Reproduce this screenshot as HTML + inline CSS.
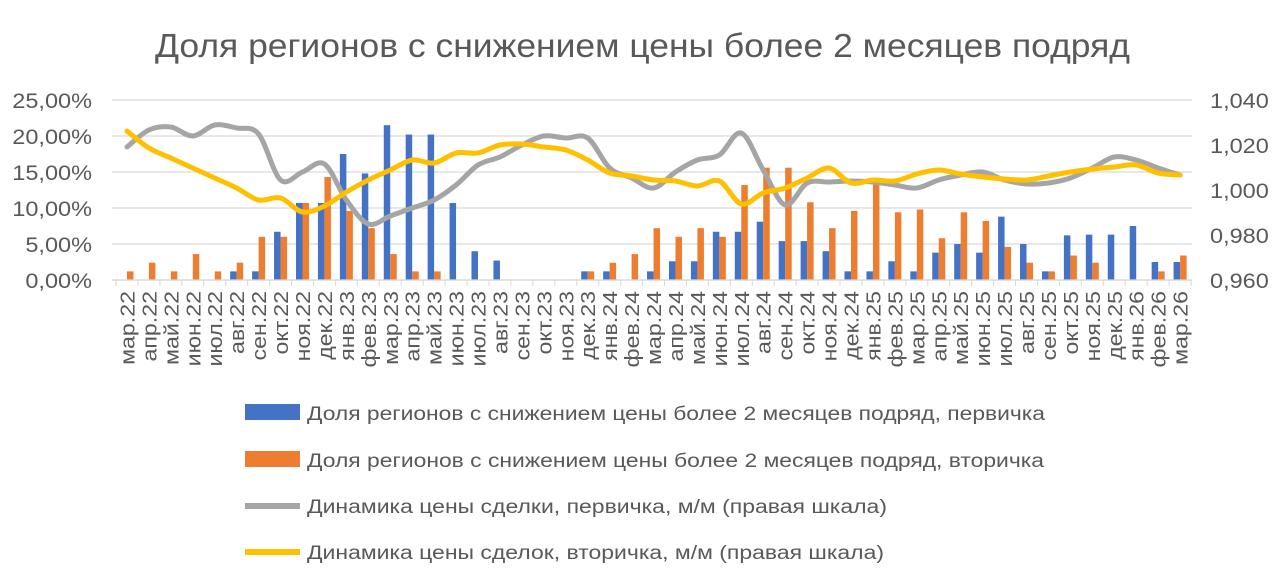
<!DOCTYPE html>
<html><head><meta charset="utf-8"><style>
body{margin:0;background:#fff;}
svg{display:block;font-family:"Liberation Sans","DejaVu Sans",sans-serif;}
</style></head><body>
<svg id="s" width="1280" height="586" xmlns="http://www.w3.org/2000/svg">
<rect width="1280" height="586" fill="#fff"/>
<text x="155" y="57" textLength="975" lengthAdjust="spacingAndGlyphs" font-size="33" fill="#595959">Доля регионов с снижением цены более 2 месяцев подряд</text>
<g id="g"></g>
<g font-size="19" fill="#595959">
<rect x="245" y="404" width="55" height="16" fill="#4472C4"/>
<text x="307" y="420" textLength="738" lengthAdjust="spacingAndGlyphs">Доля регионов с снижением цены более 2 месяцев подряд, первичка</text>
<rect x="245" y="451" width="55" height="16" fill="#ED7D31"/>
<text x="307" y="467" textLength="737" lengthAdjust="spacingAndGlyphs">Доля регионов с снижением цены более 2 месяцев подряд, вторичка</text>
<line x1="245" y1="506" x2="300" y2="506" stroke="#A5A5A5" stroke-width="6"/>
<text x="307" y="513" textLength="580" lengthAdjust="spacingAndGlyphs">Динамика цены сделки, первичка, м/м (правая шкала)</text>
<line x1="245" y1="552" x2="300" y2="552" stroke="#FFC000" stroke-width="6"/>
<text x="307" y="559" textLength="577" lengthAdjust="spacingAndGlyphs">Динамика цены сделок, вторичка, м/м (правая шкала)</text>
</g>
</svg>
<script>
var ns="http://www.w3.org/2000/svg",g=document.getElementById("g");
function el(t,a,txt){var e=document.createElementNS(ns,t);for(var k in a)e.setAttribute(k,a[k]);if(txt)e.textContent=txt;g.appendChild(e);return e;}
var L=116,W=21.94,Y0=280,P=7.2;
var ll=["25,00%","20,00%","15,00%","10,00%","5,00%","0,00%"],rl=["1,040","1,020","1,000","0,980","0,960"];
for(var i=0;i<6;i++){var y=100+i*36;el("line",{x1:112,x2:1192,y1:y,y2:y,stroke:"#d9d9d9","stroke-width":1.3});el("text",{transform:"translate(92,"+(y+8)+") scale(1.12,1)","text-anchor":"end","font-size":21,fill:"#595959"},ll[i]);}
for(var i=0;i<5;i++){var y=100+i*45;el("text",{transform:"translate(1210,"+(y+8)+") scale(1.12,1)","font-size":21,fill:"#595959"},rl[i]);}
var labels="мар.22 апр.22 май.22 июн.22 июл.22 авг.22 сен.22 окт.22 ноя.22 дек.22 янв.23 фев.23 мар.23 апр.23 май.23 июн.23 июл.23 авг.23 сен.23 окт.23 ноя.23 дек.23 янв.24 фев.24 мар.24 апр.24 май.24 июн.24 июл.24 авг.24 сен.24 окт.24 ноя.24 дек.24 янв.25 фев.25 мар.25 апр.25 май.25 июн.25 июл.25 авг.25 сен.25 окт.25 ноя.25 дек.25 янв.26 фев.26 мар.26".split(" ");
var b=[0,0,0,0,0,1.2,1.2,6.7,10.7,10.7,17.5,14.8,21.5,20.2,20.2,10.7,4.0,2.7,0,0,0,1.2,1.2,0,1.2,2.6,2.6,6.7,6.7,8.1,5.4,5.4,4.0,1.2,1.2,2.6,1.2,3.8,5.0,3.8,8.8,5.0,1.2,6.2,6.3,6.3,7.5,2.5,2.5];
var o=[1.2,2.4,1.2,3.6,1.2,2.4,6.0,6.0,10.7,14.3,9.6,7.2,3.6,1.2,1.2,0,0,0,0,0,0,1.2,2.4,3.6,7.2,6.0,7.2,6.0,13.2,15.6,15.6,10.8,7.2,9.6,13.6,9.4,9.8,5.8,9.4,8.2,4.6,2.4,1.2,3.4,2.4,0,0,1.2,3.4];
var gy=[147,130,127,136,125,128,134,180,172,164,200,224,216,208,200,185,165,157,145,136,138,138,168,178,188,172,160,155,133,170,205,183,182,181,182,185,188,180,175,172,180,184,183,178,168,157,160,168,175];
var yy=[131,148,158,168,178,188,200,198,212,206,192,180,170,160,163,153,153,145,144,147,150,160,173,176,180,181,186,181,204,193,188,178,168,183,180,181,174,170,174,177,179,180,176,172,169,167,165,173,175];
for(var i=0;i<49;i++){var c=L+W*(i+.5);
if(b[i])el("rect",{x:c-6.5,y:Y0-b[i]*P,width:6.5,height:b[i]*P,fill:"#4472C4"});
if(o[i])el("rect",{x:c,y:Y0-o[i]*P,width:6.5,height:o[i]*P,fill:"#ED7D31"});
el("text",{transform:"translate("+(c+7.5)+",291) rotate(-90) scale(1.22,1.05)","text-anchor":"end","font-size":19,fill:"#595959"},labels[i]);}
el("line",{x1:112,x2:1192,y1:280,y2:280,stroke:"#d9d9d9","stroke-width":1.3});
for(var i=0;i<=49;i++){var x=L+W*i;el("line",{x1:x,x2:x,y1:280,y2:286,stroke:"#d9d9d9"});}
function path(a){var p=a.map(function(v,i){return[L+W*(i+.5),v]});var d="M"+p[0];for(var i=0;i<p.length-1;i++){var p0=p[i-1]||p[i],p1=p[i],p2=p[i+1],p3=p[i+2]||p2;
d+=" C"+(p1[0]+(p2[0]-p0[0])/6)+","+(p1[1]+(p2[1]-p0[1])/6)+" "+(p2[0]-(p3[0]-p1[0])/6)+","+(p2[1]-(p3[1]-p1[1])/6)+" "+p2[0]+","+p2[1];}return d;}
el("path",{d:path(gy),fill:"none",stroke:"#A5A5A5","stroke-width":5,"stroke-linecap":"round"});
el("path",{d:path(yy),fill:"none",stroke:"#FFC000","stroke-width":5,"stroke-linecap":"round"});
</script>
</body></html>
